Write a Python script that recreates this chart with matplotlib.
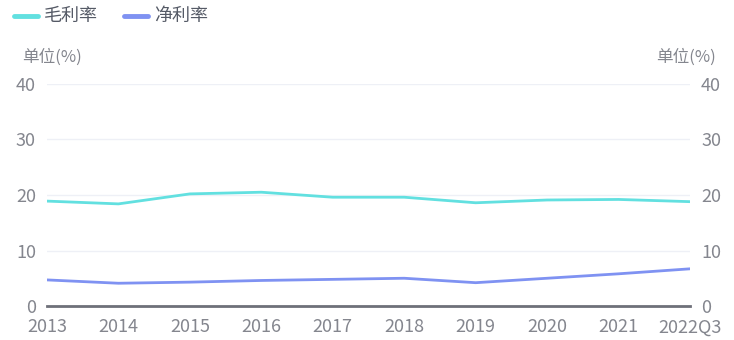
import matplotlib
matplotlib.use("Agg")
import matplotlib.pyplot as plt

plt.rcParams['font.family'] = ['Noto Sans CJK SC', 'DejaVu Sans']

categories = ["2013", "2014", "2015", "2016", "2017", "2018", "2019", "2020", "2021", "2022Q3"]
gross_margin = [18.9, 18.4, 20.2, 20.5, 19.6, 19.6, 18.6, 19.1, 19.2, 18.8]
net_margin = [4.7, 4.1, 4.3, 4.6, 4.8, 5.0, 4.2, 5.0, 5.8, 6.7]
yticks = [0, 10, 20, 30, 40]

W, H = 734, 340
fig = plt.figure(figsize=(W / 100, H / 100), dpi=100)
L, R, B, T = 47, 690, 306, 84
ax = fig.add_axes([L / W, (H - B) / H, (R - L) / W, (B - T) / H])

c_gross = "#62e0e0"
c_net = "#7f92f2"
tick_color = "#84868e"

x = list(range(len(categories)))
ax.plot(x, gross_margin, color=c_gross, lw=2.0, solid_capstyle='round')
ax.plot(x, net_margin, color=c_net, lw=2.0, solid_capstyle='round')

ax.set_xlim(0, len(categories) - 1)
ax.set_ylim(0, 40)
ax.set_yticks(yticks)
ax.set_xticks(x)
ax.set_xticklabels(categories)
for y in yticks[1:]:
    ax.axhline(y, color="#eef0f6", lw=1.0, zorder=0)
ax.axhline(0, color="#6e7079", lw=2.0, zorder=3, clip_on=False)

for s in ax.spines.values():
    s.set_visible(False)
ax.tick_params(axis='both', length=0, colors=tick_color, labelsize=13)
ax.tick_params(axis='x', pad=9)
ax.tick_params(axis='y', pad=8)

ax2 = ax.twinx()
ax2.set_ylim(0, 40)
ax2.set_yticks(yticks)
for s in ax2.spines.values():
    s.set_visible(False)
ax2.tick_params(axis='y', length=0, colors=tick_color, labelsize=13, pad=8)

fig.text(22 / W, 1 - 57 / H, "单位(%)", color=tick_color, fontsize=12, va='center', ha='left')
fig.text(716 / W, 1 - 57 / H, "单位(%)", color=tick_color, fontsize=12, va='center', ha='right')

# legend
legend_items = [("毛利率", c_gross, 14), ("净利率", c_net, 124)]
for label, col, x0 in legend_items:
    fig.add_artist(plt.Line2D([x0 / W, (x0 + 24) / W], [1 - 16 / H, 1 - 16 / H],
                              color=col, lw=3.5, solid_capstyle='round',
                              transform=fig.transFigure))
    fig.text((x0 + 30) / W, 1 - 16 / H, label, color="#555a66", fontsize=13,
             va='center', ha='left')

fig.savefig("out.png", dpi=100)
